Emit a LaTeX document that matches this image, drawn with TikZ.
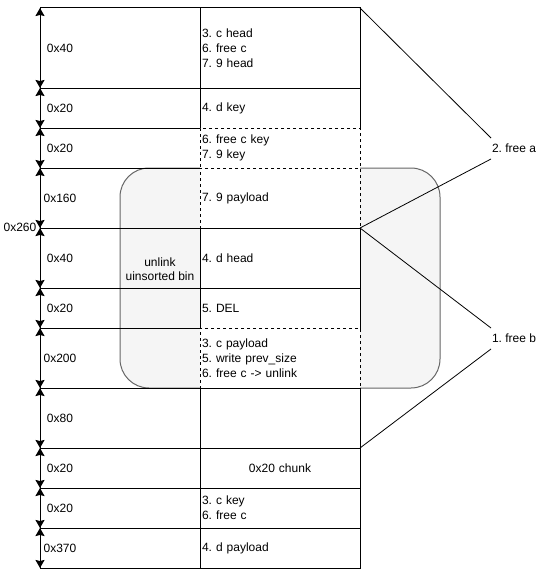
\documentclass[tikz,border=0pt]{standalone}
\usepackage{fontspec}
\setmainfont{Liberation Sans}
\usetikzlibrary{arrows.meta}
\definecolor{bingrey}{HTML}{F5F5F5}
\definecolor{binedge}{HTML}{666666}
\frenchspacing
\begin{document}
\begin{tikzpicture}[x=1pt,y=-1pt,
  every node/.style={font=\fontsize{12}{15}\selectfont, inner sep=0pt, outer sep=0pt},
  lcell/.style={draw, line width=1pt, minimum width=160pt},
  rcell/.style={draw, fill=white, line width=1pt, minimum width=160pt, text width=156pt, inner xsep=2pt, align=left},
  dcell/.style={rcell, dash pattern=on 3pt off 3pt},
  dim/.style={line width=1pt, {Stealth[length=8pt,width=9pt,inset=1pt]}-{Stealth[length=8pt,width=9pt,inset=1pt]}},
  size/.style={anchor=center},
  link/.style={line width=0.8pt},
  freelbl/.style={anchor=west, minimum height=21pt, inner xsep=1pt}
]
\useasboundingbox (0,0) rectangle (557,578);

% unsorted bin backdrop
\node[draw=binedge, fill=bingrey, line width=1pt, rounded corners=29pt,
      minimum width=320pt, minimum height=220pt] (bin) at (280,278) {};
\node[align=center, font=\fontsize{12}{14}\selectfont] (binlbl) at (160,269) {unlink\\uinsorted bin};

% left column
\node[lcell, minimum height=80pt] (L1) at (120,48) {};
\node[lcell, minimum height=40pt] (L2) at (120,108) {};
\node[lcell, minimum height=40pt] (L3) at (120,148) {};
\node[lcell, minimum height=60pt] (L4) at (120,198) {};
\node[lcell, minimum height=60pt] (L5) at (120,258) {};
\node[lcell, minimum height=40pt] (L6) at (120,308) {};
\node[lcell, minimum height=60pt] (L7) at (120,358) {};
\node[lcell, minimum height=60pt] (L8) at (120,418) {};
\node[lcell, minimum height=40pt] (L9) at (120,468) {};
\node[lcell, minimum height=40pt] (L10) at (120,508) {};
\node[lcell, minimum height=40pt] (L11) at (120,548) {};

% right column, solid cells
\node[rcell, minimum height=80pt] (R1) at (280,48) {3. c head\\6. free c\\7. 9 head};
\node[rcell, minimum height=40pt] (R2) at (280,108) {4. d key};
\node[rcell, minimum height=60pt] (R5) at (280,258) {4. d head};
\node[rcell, minimum height=40pt] (R6) at (280,308) {5. DEL};
\node[rcell, minimum height=60pt] (R8) at (280,418) {};
\node[rcell, minimum height=40pt, align=center] (R9) at (280,468) {0x20 chunk};
\node[rcell, minimum height=40pt] (R10) at (280,508) {3. c key\\6. free c};
\node[rcell, minimum height=40pt] (R11) at (280,548) {4. d payload};
% right column, dashed cells
\node[dcell, minimum height=40pt] (R3) at (280,148) {6. free c key\\7. 9 key};
\node[dcell, minimum height=60pt] (R4) at (280,198) {7. 9 payload};
\node[dcell, minimum height=60pt] (R7) at (280,358) {3. c payload\\5. write prev\_size\\6. free c -> unlink};

% free labels and links
\node[freelbl] (fa) at (491,148.5) {2. free a};
\node[freelbl] (fb) at (491,338.5) {1. free b};
\draw[link] (R1.north east) -- (fa.north west);
\draw[link] (R4.south east) -- (fa.south west);
\draw[link] (R5.north east) -- (fb.north west);
\draw[link] (R8.south east) -- (fb.south west);

% size dimension arrows
\foreach \c in {L1,L2,L3,L4,L5,L6,L7,L8,L9,L10,L11}
  \draw[dim] (\c.north west) -- (\c.south west);

% size labels
\node[size] (s1) at (60,48) {0x40};
\node[size] (s2) at (60,108) {0x20};
\node[size] (s3) at (60,148) {0x20};
\node[size] (s4) at (60,198) {0x160};
\node[size] (s5) at (60,258) {0x40};
\node[size] (s6) at (60,308) {0x20};
\node[size] (s7) at (60,358) {0x200};
\node[size] (s8) at (60,418) {0x80};
\node[size] (s9) at (60,468) {0x20};
\node[size] (s10) at (60,508) {0x20};
\node[size] (s11) at (60,548) {0x370};
\node[size] (stot) at (20,227) {0x260};
\end{tikzpicture}
\end{document}
